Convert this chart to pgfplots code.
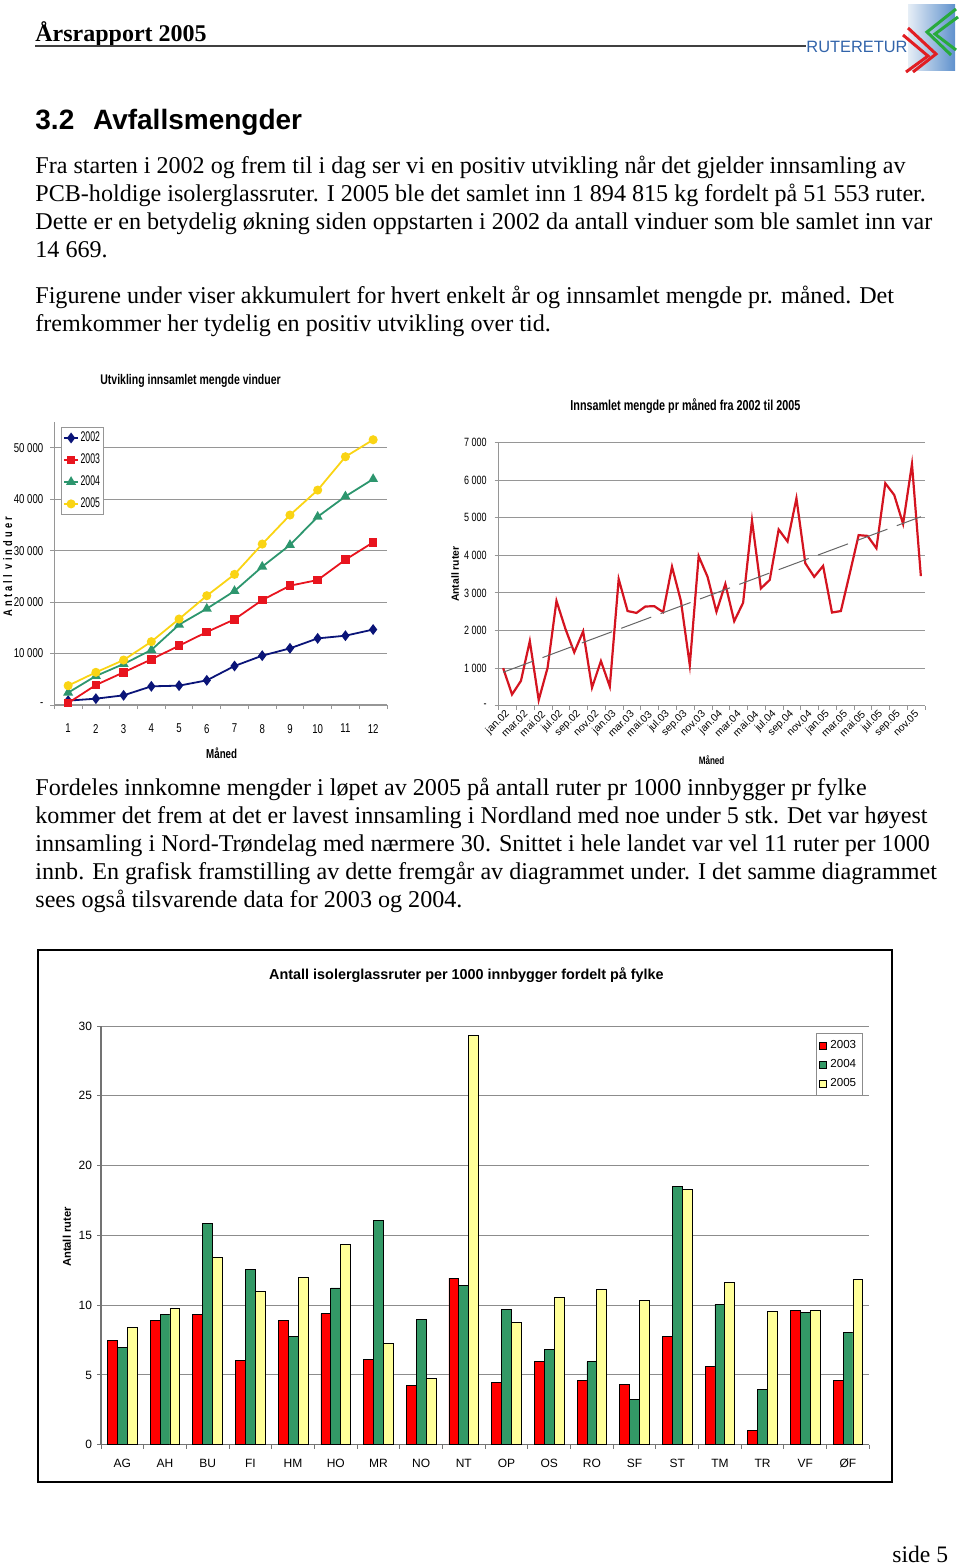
\documentclass[border=0pt]{standalone}
\usepackage{fontspec}
\setmainfont{Liberation Serif}
\newfontfamily\arial{Liberation Sans}
\newfontfamily\narrow[FakeStretch=0.75]{Liberation Sans}
\newfontfamily\narrowleg[FakeStretch=0.62]{Liberation Sans}
\newfontfamily\narrowsp[FakeStretch=0.75,LetterSpace=25]{Liberation Sans}
\usepackage{pgfplots}
\pgfplotsset{compat=1.18}
\newcommand\setfs[1]{\fontsize{#1}{#1}\selectfont}
\definecolor{cA}{RGB}{10,20,120}
\definecolor{cB}{RGB}{232,20,30}
\definecolor{cC}{RGB}{45,150,110}
\definecolor{cD}{RGB}{250,212,20}
\definecolor{lred}{RGB}{212,20,32}
\definecolor{bred}{RGB}{255,0,0}
\definecolor{bgreen}{RGB}{51,153,102}
\definecolor{byellow}{RGB}{255,255,153}
\definecolor{gridc}{RGB}{150,150,150}
\definecolor{logoblue}{RGB}{50,100,170}
\definecolor{logoL}{RGB}{230,238,246}
\definecolor{logoR}{RGB}{95,145,205}
\definecolor{logoG}{RGB}{40,170,60}
\definecolor{logoRed}{RGB}{225,30,35}
\newcommand\bodyline[2]{\node[anchor=base west, inner sep=0pt, font=\fontsize{12.05}{14}\selectfont] at (35,#1) {#2};}
\pgfplotsset{
  sqleg/.style={legend image code/.code={\draw[##1, draw=black, line width=0.4pt] (0pt,-1.7pt) rectangle (3.4pt,1.7pt);}},
}
\begin{document}
\begin{tikzpicture}
\path[use as bounding box] (0pt,0pt) rectangle (480pt,-783.5pt);

% ---------------- Left chart: cumulative per year ----------------
\begin{axis}[
  at={(27.15pt,-352.5pt)}, anchor=south west, scale only axis,
  width=166.35pt, height=141.5pt,
  xmin=0.5, xmax=12.5, ymin=0, ymax=55000,
  scaled y ticks=false,
  axis x line=bottom, axis y line=left,
  axis line style={-, draw=gridc, line width=0.6pt},
  tick align=outside, major tick length=0pt, minor tick length=2pt,
  tick style={gridc, line width=0.5pt},
  xtick={1,2,3,4,5,6,7,8,9,10,11,12},
  xticklabels={1,2,3,4,5,6,7,8,9,10,11,12},
  minor xtick={0.5,1.5,...,12.5},
  ytick={0,10000,20000,30000,40000,50000},
  minor ytick={0,10000,20000,30000,40000,50000},
  yticklabels={-\hspace{5pt},10 000,20 000,30 000,40 000,50 000},
  ymajorgrids, major grid style={gridc, line width=0.5pt},
  tick label style={font=\narrow\setfs{6.4}},
  yticklabel style={xshift=-2pt},
  xticklabel style={yshift=-6pt},
  xlabel={Måned},
  xlabel style={font=\narrow\bfseries\setfs{6.5}, at={(axis description cs:0.503,-0.171)}, anchor=center},
  ylabel={Antall vinduer},
  ylabel style={font=\narrowsp\bfseries\setfs{6.2}, at={(axis description cs:-0.14,0.489)}, anchor=center},
  legend style={at={(0.02,0.981)}, anchor=north west, draw=gridc, font=\narrowleg\setfs{7},
    row sep=2.8pt, inner sep=1pt, cells={anchor=west}, nodes={inner sep=0.9pt}},
  legend image code/.code={\draw[mark repeat=2,mark phase=2] plot coordinates {(0cm,0cm)(0.12cm,0cm)(0.24cm,0cm)};},
]
\addplot[cA, line width=0.9pt, mark=diamond*, mark size=2pt, mark options={solid}] coordinates {
(1,850)(2,1230)(3,1880)(4,3630)(5,3760)(6,4790)(7,7580)(8,9590)(9,11010)(10,12950)(11,13470)(12,14669)};
\addlegendentry{2002}
\addplot[cB, line width=0.9pt, mark=square*, mark size=1.7pt, mark options={solid}] coordinates {
(1,390)(2,3890)(3,6350)(4,8870)(5,11530)(6,14180)(7,16650)(8,20400)(9,23190)(10,24290)(11,28240)(12,31610)};
\addlegendentry{2003}
\addplot[cC, line width=0.9pt, mark=triangle*, mark size=2pt, mark options={solid}] coordinates {
(1,2400)(2,5640)(3,7970)(4,10690)(5,15610)(6,18720)(7,22150)(8,26880)(9,31090)(10,36590)(11,40540)(12,43910)};
\addlegendentry{2004}
\addplot[cD, line width=0.9pt, mark=*, mark size=1.8pt, mark options={solid}] coordinates {
(1,3760)(2,6350)(3,8740)(4,12310)(5,16710)(6,21240)(7,25390)(8,31280)(9,36920)(10,41770)(11,48250)(12,51553)};
\addlegendentry{2005}
\end{axis}

% ---------------- Right chart: per month ----------------
\begin{axis}[
  at={(249.35pt,-352.85pt)}, anchor=south west, scale only axis,
  width=213.3pt, height=131.5pt,
  xmin=0.5, xmax=48.5, ymin=0, ymax=7000,
  scaled y ticks=false,
  axis x line=bottom, axis y line=left,
  axis line style={-, draw=gridc, line width=0.6pt},
  tick align=outside, major tick length=0pt, minor tick length=2pt,
  tick style={gridc, line width=0.5pt},
  xtick={1,3,...,47},
  minor xtick={0.5,2.5,...,48.5},
  xticklabels={jan.02,mar.02,mai.02,jul.02,sep.02,nov.02,jan.03,mar.03,mai.03,jul.03,sep.03,nov.03,jan.04,mar.04,mai.04,jul.04,sep.04,nov.04,jan.05,mar.05,mai.05,jul.05,sep.05,nov.05},
  xticklabel style={rotate=45, anchor=east, font=\arial\setfs{5.2}, inner sep=0.5pt, yshift=-4pt},
  ytick={0,1000,2000,3000,4000,5000,6000,7000},
  minor ytick={0,1000,2000,3000,4000,5000,6000,7000},
  yticklabels={-\hspace{5pt},1 000,2 000,3 000,4 000,5 000,6 000,7 000},
  yticklabel style={font=\narrow\setfs{6}, xshift=-2.5pt},
  ymajorgrids, major grid style={gridc, line width=0.5pt},
  xlabel={Måned},
  xlabel style={font=\narrow\bfseries\setfs{5.4}, at={(axis description cs:0.499,-0.206)}, anchor=center},
  ylabel={Antall ruter},
  ylabel style={font=\arial\bfseries\setfs{5.2}, at={(axis description cs:-0.102,0.5)}, anchor=center},
]
\addplot[lred, line width=1.1pt] coordinates {
(1,1000)(2,300)(3,660)(4,1720)(5,150)(6,1010)(7,2790)(8,2050)(9,1420)(10,1980)(11,480)(12,1190)
(13,510)(14,3370)(15,2520)(16,2470)(17,2640)(18,2650)(19,2490)(20,3700)(21,2790)(22,1080)(23,3980)(24,3430)
(25,2500)(26,3240)(27,2250)(28,2740)(29,4930)(30,3120)(31,3350)(32,4690)(33,4370)(34,5520)(35,3790)(36,3430)
(37,3720)(38,2480)(39,2520)(40,3520)(41,4540)(42,4520)(43,4190)(44,5920)(45,5610)(46,4840)(47,6430)(48,3450)};
\addplot[black!60, line width=0.5pt, dash pattern=on 16pt off 5pt] coordinates {(1,890)(48,5030)};
\end{axis}

% ---------------- Bar chart ----------------
\draw[black, line width=0.8pt] (19pt,-475pt) rectangle (446pt,-741pt);
\begin{axis}[
  at={(50.5pt,-722.35pt)}, anchor=south west, scale only axis,
  width=384.15pt, height=209.35pt,
  xmin=-0.5, xmax=17.5, ymin=0, ymax=30,
  axis x line=bottom, axis y line=left,
  axis line style={-, draw=black!55, line width=0.6pt},
  ybar=0pt, bar width=4.95pt,
  tick align=outside, major tick length=0pt, minor tick length=2pt,
  tick style={black!55, line width=0.5pt},
  xtick={0,1,2,3,4,5,6,7,8,9,10,11,12,13,14,15,16,17},
  xticklabels={AG,AH,BU,FI,HM,HO,MR,NO,NT,OP,OS,RO,SF,ST,TM,TR,VF,ØF},
  minor xtick={-0.5,0.5,...,17.5},
  ytick={0,5,10,15,20,25,30}, minor ytick={0,5,10,15,20,25,30},
  yticklabels={0,5,10,15,20,25,30},
  ymajorgrids, major grid style={black!45, line width=0.5pt},
  tick label style={font=\arial\setfs{6}},
  xticklabel style={yshift=-3.5pt},
  yticklabel style={xshift=-1pt},
  ylabel={Antall ruter},
  ylabel style={font=\arial\bfseries\setfs{5.6}, at={(axis description cs:-0.0443,0.496)}, anchor=center},
  legend style={at={(0.9306,0.9826)}, anchor=north west, draw=black!45, font=\arial\setfs{5.8},
    row sep=0pt, inner sep=1.2pt, cells={anchor=west}},
]
\addplot[fill=bred, draw=black, line width=0.4pt, sqleg] coordinates {
(0,7.5)(1,8.93)(2,9.34)(3,6.07)(4,8.93)(5,9.39)(6,6.14)(7,4.25)(8,11.94)(9,4.44)(10,5.95)(11,4.59)(12,4.32)(13,7.76)(14,5.61)(15,1.05)(16,9.65)(17,4.59)};
\addlegendentry{2003}
\addplot[fill=bgreen, draw=black, line width=0.4pt, sqleg] coordinates {
(0,6.97)(1,9.34)(2,15.86)(3,12.59)(4,7.76)(5,11.23)(6,16.05)(7,8.98)(8,11.42)(9,9.72)(10,6.85)(11,5.95)(12,3.22)(13,18.53)(14,10.05)(15,3.99)(16,9.46)(17,8.02)};
\addlegendentry{2004}
\addplot[fill=byellow, draw=black, line width=0.4pt, sqleg] coordinates {
(0,8.41)(1,9.79)(2,13.42)(3,11.01)(4,11.99)(5,14.35)(6,7.26)(7,4.75)(8,29.33)(9,8.74)(10,10.58)(11,11.11)(12,10.32)(13,18.32)(14,11.61)(15,9.58)(16,9.65)(17,11.87)};
\addlegendentry{2005}
\end{axis}

% ---------------- Page text (pixel coordinates) ----------------
\begin{scope}[x=0.5pt, y=-0.5pt]
% header
\node[anchor=base west, inner sep=0pt, font=\bfseries\setfs{12}] at (35,42) {Årsrapport 2005};
\draw[black!75, line width=0.7pt] (35,46) -- (806,46);
\node[anchor=base west, inner sep=0pt, font=\arial\setfs{8.2}, text=logoblue] at (806,52.5) {RUTERETUR};
\shade[left color=logoL, right color=logoR] (908,5) rectangle (955,71);
\draw[logoG, line width=1.5pt] (956,9) -- (927,32) -- (951,55);
\draw[logoG, line width=1.5pt] (958,17) -- (935,34) -- (956,50);
\draw[logoRed, line width=1.5pt] (908,28) -- (936,54) -- (913,72);
\draw[logoRed, line width=1.5pt] (903,35) -- (928,56) -- (906,72);
% section heading
\node[anchor=base west, inner sep=0pt, font=\arial\bfseries\setfs{14}] at (35,129.3) {3.2};
\node[anchor=base west, inner sep=0pt, font=\arial\bfseries\setfs{14}] at (92.7,129.3) {Avfallsmengder};
% paragraph 1
\bodyline{174}{Fra starten i 2002 og frem til i dag ser vi en positiv utvikling når det gjelder innsamling av}
\bodyline{202}{PCB-holdige isolerglassruter. I 2005 ble det samlet inn 1 894 815 kg fordelt på 51 553 ruter.}
\bodyline{230}{Dette er en betydelig økning siden oppstarten i 2002 da antall vinduer som ble samlet inn var}
\bodyline{257.5}{14 669.}
% paragraph 2
\bodyline{303.3}{Figurene under viser akkumulert for hvert enkelt år og innsamlet mengde pr. måned. Det}
\bodyline{331.3}{fremkommer her tydelig en positiv utvikling over tid.}
% chart titles
\node[anchor=base west, inner sep=0pt, font=\narrow\bfseries\setfs{7.0}] at (100,384) {Utvikling innsamlet mengde vinduer};
\node[anchor=base west, inner sep=0pt, font=\narrow\bfseries\setfs{7.2}] at (570,410.5) {Innsamlet mengde pr måned fra 2002 til 2005};
% paragraph 3
\bodyline{795}{Fordeles innkomne mengder i løpet av 2005 på antall ruter pr 1000 innbygger pr fylke}
\bodyline{823}{kommer det frem at det er lavest innsamling i Nordland med noe under 5 stk. Det var høyest}
\bodyline{851}{innsamling i Nord-Trøndelag med nærmere 30. Snittet i hele landet var vel 11 ruter per 1000}
\bodyline{879}{innb. En grafisk framstilling av dette fremgår av diagrammet under. I det samme diagrammet}
\bodyline{907}{sees også tilsvarende data for 2003 og 2004.}
% bar chart title
\node[anchor=base, inner sep=0pt, font=\arial\bfseries\setfs{7.2}] at (466.5,979.5) {Antall isolerglassruter per 1000 innbygger fordelt på fylke};
% page number
\node[anchor=base west, inner sep=0pt, font=\setfs{11.8}] at (892,1562) {side 5};
\end{scope}
\end{tikzpicture}
\end{document}
